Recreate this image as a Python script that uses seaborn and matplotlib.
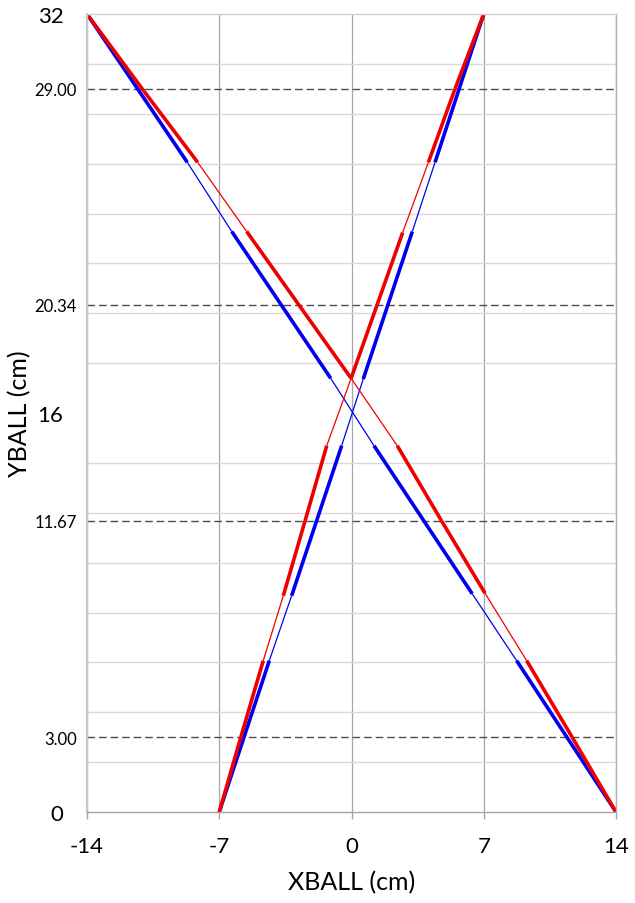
import matplotlib
matplotlib.use("Agg")
import matplotlib.pyplot as plt
import seaborn as sns
import numpy as np
import pandas as pd

# reference heights (dashed lines) and axis ticks
ref_levels = [3.00, 11.67, 20.34, 29.00]
ref_labels = ["3.00", "11.67", "20.34", "29.00"]
main_yticks = [0, 16, 32]
x_ticks = [-14, -7, 0, 7, 14]

# descending track, top-left -> bottom-right
blue_desc_x = [-14, -8.69, -6.34, -1.10, 1.19, 6.39, 8.74, 14]
blue_desc_y = [32, 26.05, 23.28, 17.39, 14.69, 8.75, 6.07, 0]
red_desc_x = [-14, -10.98, -8.14, -5.55, -0.02, 2.42, 4.77, 7.07, 9.27, 11.68, 14]
red_desc_y = [32, 28.90, 26.05, 23.28, 17.39, 14.69, 11.67, 8.77, 6.07, 3.00, 0]

# ascending track, bottom-left -> top-right
blue_asc_x = [-7, -4.35, -3.17, -0.52, 0.62, 3.22, 4.42, 7]
blue_asc_y = [0, 6.07, 8.67, 14.69, 17.36, 23.28, 26.05, 32]
red_asc_x = [-7, -5.86, -4.67, -3.61, -2.46, -1.31, -0.02, 2.71, 4.07, 5.48, 7]
red_asc_y = [0, 3.00, 6.07, 8.67, 11.67, 14.69, 17.39, 23.24, 26.05, 29.00, 32]

tracks = [
    ("blue", blue_desc_x, blue_desc_y),
    ("blue", blue_asc_x, blue_asc_y),
    ("red", red_desc_x, red_desc_y),
    ("red", red_asc_x, red_asc_y),
]


def build_segments():
    """split every track into segments; thick when close to a reference height"""
    rows = []
    seg = 0
    for color, xs, ys in tracks:
        for i in range(len(xs) - 1):
            mid = (ys[i] + ys[i + 1]) / 2
            weight = "thick" if min(abs(mid - lv) for lv in ref_levels) < 3 else "thin"
            for j in (i, i + 1):
                rows.append({"x": xs[j], "y": ys[j], "color": color,
                             "weight": weight, "seg": seg})
            seg += 1
    return pd.DataFrame(rows)


df = build_segments()

sns.set_theme(style="white")
plt.rcParams["font.family"] = ["Lato", "DejaVu Sans"]

fig = plt.figure(figsize=(6.35, 9.04), dpi=100)
ax = fig.add_axes([87 / 635, 1 - 813 / 904, 529 / 635, 798 / 904])

# grid
ax.set_yticks(np.arange(0, 33, 2), minor=True)
ax.yaxis.grid(True, which="minor", color="#d9d9d9", linewidth=1.0)
ax.yaxis.grid(False, which="major")
ax.xaxis.grid(True, which="major", color="#a6a6a6", linewidth=0.9)
ax.set_axisbelow(True)

for lv in ref_levels:
    ax.axhline(lv, color="#4d4d4d", linewidth=1.0, linestyle=(0, (5.5, 2.8)), zorder=1.5)

sns.lineplot(
    data=df, x="x", y="y", hue="color", units="seg", size="weight",
    hue_order=["blue", "red"], palette={"blue": "#0000ee", "red": "#ee0000"},
    sizes={"thick": 2.6, "thin": 0.9}, estimator=None, sort=False,
    legend=False, solid_capstyle="butt", ax=ax,
)

ax.set_xlim(-14, 14)
ax.set_ylim(0, 32)
ax.set_xticks(x_ticks)
ax.set_xticklabels([str(v) for v in x_ticks])

yt = main_yticks + ref_levels
yl = [str(v) for v in main_yticks] + ref_labels
order = np.argsort(yt)
ax.set_yticks([yt[i] for i in order])
ax.set_yticklabels([yl[i] for i in order])

ax.tick_params(axis="x", which="major", length=5, width=1, color="#a6a6a6",
               pad=12, labelsize=16, labelcolor="black", direction="out", bottom=True)
ax.tick_params(axis="y", which="both", length=0, labelcolor="black")
for t in ax.yaxis.get_major_ticks():
    lab = t.label1.get_text()
    if "." in lab:
        t.label1.set_fontsize(12)
        t.set_pad(7.5)
    else:
        t.label1.set_fontsize(16)
        t.set_pad(17)

ax.set_xlabel("XBALL (cm)", fontsize=18, color="black")
ax.set_ylabel("YBALL (cm)", fontsize=18, color="black")
ax.xaxis.set_label_coords(0.5, -0.073)
ax.yaxis.set_label_coords(-0.105, 0.5)

for side, col, lw in [("left", "#c8c8c8", 1.6), ("right", "#b0b0b0", 1.0),
                      ("top", "#d0d0d0", 1.0), ("bottom", "#a6a6a6", 1.0)]:
    ax.spines[side].set_visible(True)
    ax.spines[side].set_color(col)
    ax.spines[side].set_linewidth(lw)

fig.savefig("out.png", dpi=100)
plt.close(fig)
